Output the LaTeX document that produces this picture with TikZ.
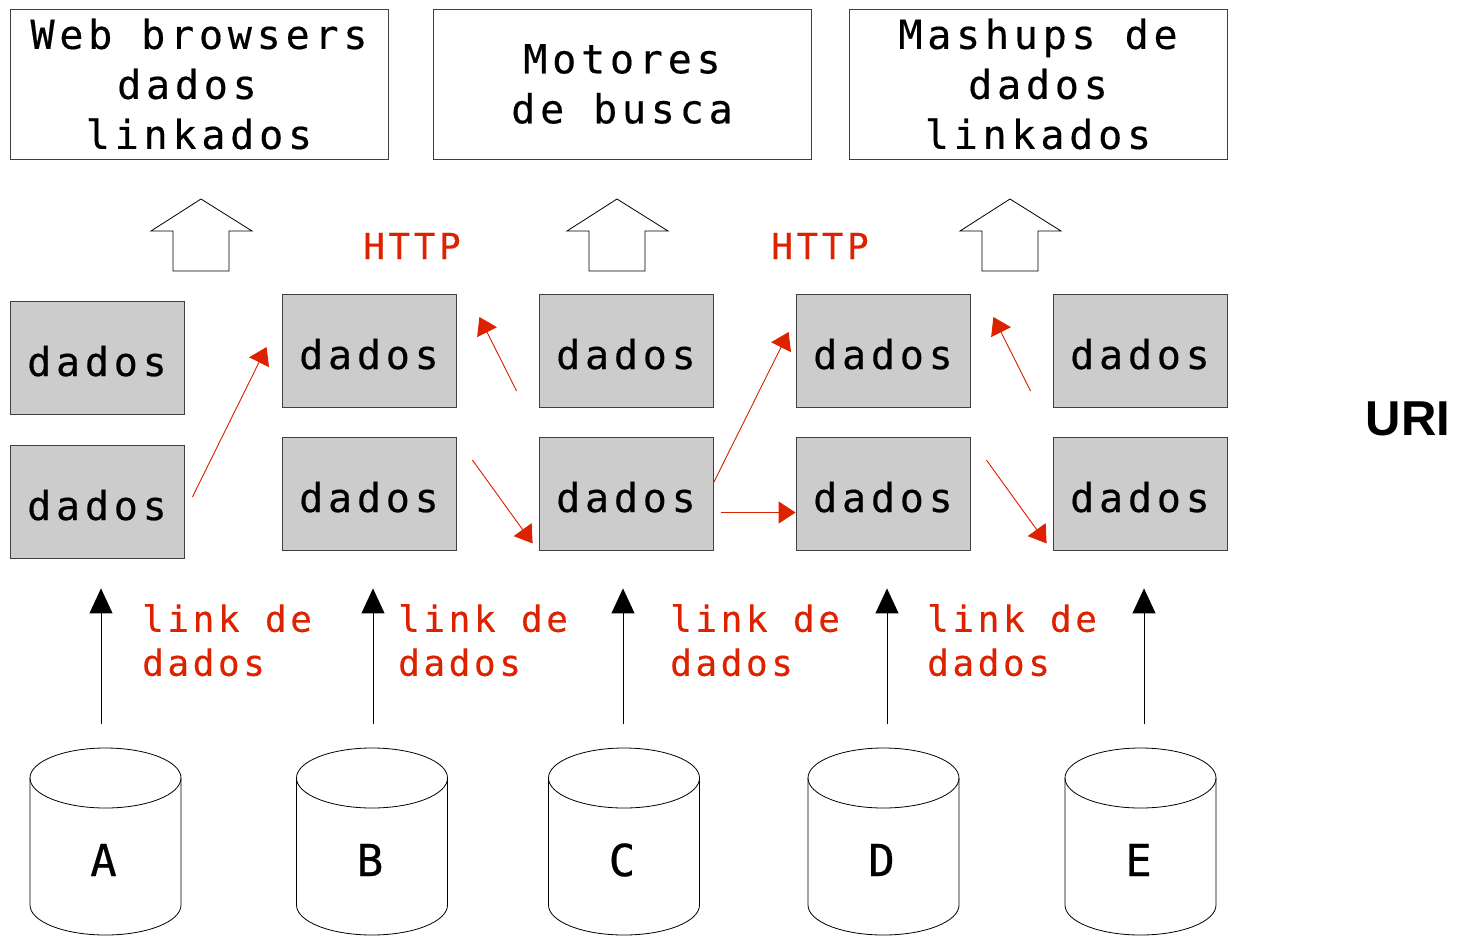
\documentclass[tikz,border=0pt]{standalone}
\usepackage{fontspec}
\usetikzlibrary{arrows.meta}
\setsansfont{Liberation Sans}
\newfontfamily\boxfont[LetterSpace=12,FakeBold=0.4]{DejaVu Sans Mono}
\newfontfamily\linkfont[LetterSpace=10,FakeBold=0.4]{DejaVu Sans Mono}
\newfontfamily\httpfont[LetterSpace=10,FakeBold=0.4]{DejaVu Sans Mono}
\newfontfamily\cylfont[FakeBold=0.6]{DejaVu Sans Mono}
\definecolor{linkred}{RGB}{221,34,0}

\tikzset{
  appbox/.style={draw=black!75, line width=0.8pt, fill=white,
    minimum width=378pt, minimum height=150pt, align=center,
    font=\boxfont\fontsize{40}{50}\selectfont},
  databox/.style={draw=black!75, line width=0.8pt, fill=black!20,
    minimum width=174pt, minimum height=113pt, inner sep=0pt,
    text height=37pt, text depth=0pt,
    font=\boxfont\fontsize{40}{44}\selectfont},
  bigarrow/.style={draw=black, line width=0.8pt, fill=white},
  linkarrow/.style={-{Triangle[length=17pt,width=22pt]}, draw=linkred, fill=linkred, line width=0.9pt},
  uparrow/.style={-{Triangle[length=25pt,width=23pt]}, black, line width=1pt},
  linktext/.style={text=linkred, anchor=north west, inner sep=0pt, align=left,
    font=\linkfont\fontsize{36}{44}\selectfont},
  httptext/.style={text=linkred, font=\httpfont\fontsize{36}{40}\selectfont},
  cyllabel/.style={font=\cylfont\fontsize{44}{50}\selectfont},
}

\begin{document}
\begin{tikzpicture}[x=1pt,y=-1pt]
    \useasboundingbox (0,0) rectangle (1464,937);

    % Anwendungen oben
    \node[appbox] (web) at (199,84) {Web browsers\\dados\phantom{x}\\linkados};
    \node[appbox] (busca) at (622,84) {Motores\\de busca};
    \node[appbox] (mashup) at (1038,84) {Mashups de\\dados\\linkados};

    % dicke Pfeile nach oben
    \foreach \x in {201,617,1010}
        \draw[bigarrow] (\x-50,231) -- (\x,199) -- (\x+51,231) -- (\x+28,231)
            -- (\x+28,271) -- (\x-28,271) -- (\x-28,231) -- cycle;

    \node[httptext] (http1) at (412,246) {HTTP};
    \node[httptext] (http2) at (820,246) {HTTP};

    % Datenkaesten
    \node[databox] (d11) at (97,357.5) {dados};
    \node[databox] (d12) at (97,501.5) {dados};
    \node[databox] (d21) at (369,350.5) {dados};
    \node[databox] (d22) at (369,493.5) {dados};
    \node[databox] (d31) at (626,350.5) {dados};
    \node[databox] (d32) at (626,493.5) {dados};
    \node[databox] (d41) at (883,350.5) {dados};
    \node[databox] (d42) at (883,493.5) {dados};
    \node[databox] (d51) at (1140,350.5) {dados};
    \node[databox] (d52) at (1140,493.5) {dados};

    \node[font=\sffamily\bfseries\fontsize{49}{56}\selectfont] (uri) at (1408,419) {URI};

    % Links zwischen den Daten
    \draw[linkarrow] ([xshift=8pt,yshift=4.5pt]d12.east) -- ([xshift=-15pt,yshift=3.5pt]d21.west);
    \draw[linkarrow] ([xshift=-22pt,yshift=-40.5pt]d31.west) -- ([xshift=23pt,yshift=33.5pt]d21.east);
    \draw[linkarrow] ([xshift=16pt,yshift=33.5pt]d22.east) -- ([xshift=-6pt,yshift=7pt]d32.south west);
    \draw[linkarrow] ([yshift=10.5pt]d32.east) -- ([xshift=-7pt,yshift=18.5pt]d41.west);
    \draw[linkarrow] ([xshift=8pt,yshift=-19pt]d32.east) -- ([yshift=-19pt]d42.west);
    \draw[linkarrow] ([xshift=-22pt,yshift=-40.5pt]d51.west) -- ([xshift=23pt,yshift=33.5pt]d41.east);
    \draw[linkarrow] ([xshift=16pt,yshift=33.5pt]d42.east) -- ([xshift=-6pt,yshift=7pt]d52.south west);

    \node[linktext] (link1) at (142,604) {link de\\dados};
    \node[linktext] (link2) at (398,604) {link de\\dados};
    \node[linktext] (link3) at (670,604) {link de\\dados};
    \node[linktext] (link4) at (927,604) {link de\\dados};

    % Datenbanken unten
    \foreach \n/\x/\a/\d/\s in {A/105.5/101/d12/30, B/372/373/d22/38, C/624/623/d32/38,
                                D/883.5/887/d42/38, E/1140.5/1144/d52/38} {
        \draw[line width=0.8pt] (\x-75.5,778) -- (\x-75.5,905)
            arc[start angle=180, end angle=360, x radius=75.5pt, y radius=30pt] -- (\x+75.5,778);
        \draw[line width=0.8pt] (\x,778) ellipse[x radius=75.5pt, y radius=30pt];
        \node[cyllabel] (l\n) at (\x-2,860) {\n};
        \coordinate (f\n) at (\a,724);
        \draw[uparrow, shorten >=\s pt] (f\n) -- (f\n |- \d.south);
    }
\end{tikzpicture}
\end{document}
